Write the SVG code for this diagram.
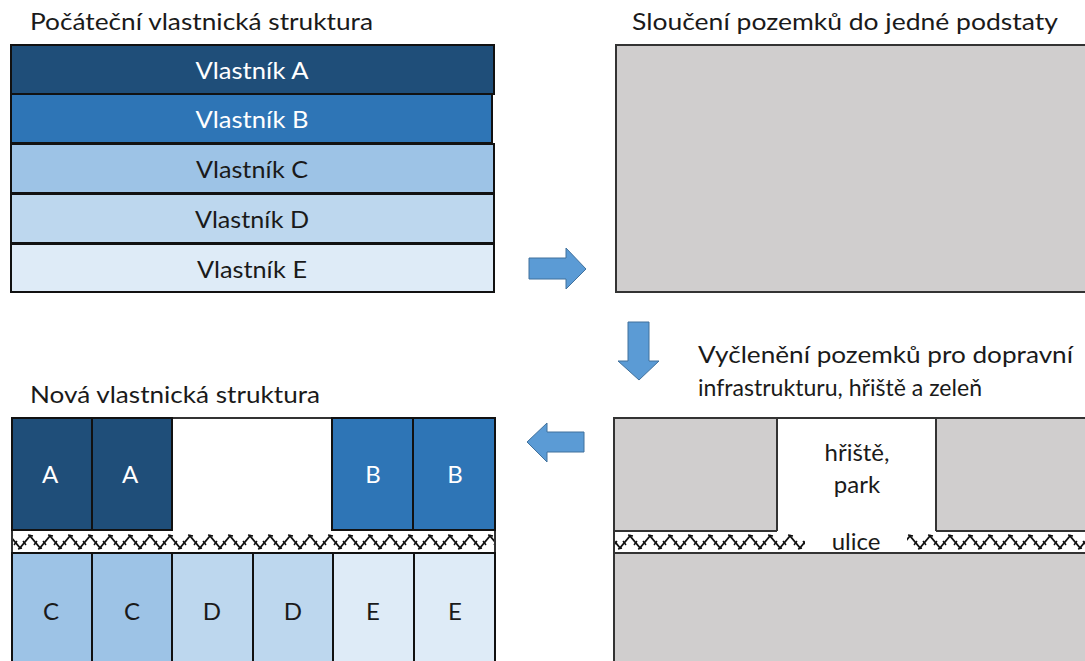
<svg xmlns="http://www.w3.org/2000/svg" width="1085" height="661" viewBox="0 0 1085 661">
<style>
.t{font-family:Lato,"Open Sans","Liberation Sans",sans-serif;fill:#1a1a1a}
.title{font-size:24px}
.lbl{font-size:24px;text-anchor:middle}
.w{fill:#ffffff}
.cell{stroke:#111;stroke-width:2}
.gray{fill:#d0cece;stroke:#333;stroke-width:2}
.arrow{fill:#5b9bd5;stroke:#41719c;stroke-width:1}
.A{fill:#1f4e79}.B{fill:#2e75b6}.C{fill:#9dc3e6}.D{fill:#bdd7ee}.E{fill:#deebf7}
</style>
<defs>
<pattern id="zig" patternUnits="userSpaceOnUse" x="0" y="531" width="20" height="22">
<rect width="20" height="22" fill="#fff"/>
<path d="M0,17 L10,5 L20,17" fill="none" stroke="#111" stroke-width="1.8"/>
<path d="M3,10 L6,14 M8,4 L13,5 M14,14 L17,10 M-2,18 L2,17 M18,18 L22,17" fill="none" stroke="#111" stroke-width="1.5"/>
</pattern>
</defs>
<rect width="1085" height="661" fill="#fff"/>

<g id="title-initial"><text class="t title" x="30" y="30" textLength="343" lengthAdjust="spacingAndGlyphs">Počáteční vlastnická struktura</text></g>
<g id="title-merge"><text class="t title" x="632" y="30" textLength="426" lengthAdjust="spacingAndGlyphs">Sloučení pozemků do jedné podstaty</text></g>
<g id="title-separate"><text class="t title" x="698" y="363" textLength="375" lengthAdjust="spacingAndGlyphs">Vyčlenění pozemků pro dopravní</text><text class="t title" x="698" y="396" textLength="284" lengthAdjust="spacingAndGlyphs">infrastrukturu, hřiště a zeleň</text></g>
<g id="title-new"><text class="t title" x="30" y="403" textLength="290" lengthAdjust="spacingAndGlyphs">Nová vlastnická struktura</text></g>

<g id="initial-structure">
<rect class="cell A" x="11" y="45" width="483" height="49"/>
<rect class="cell B" x="11" y="94" width="481" height="49"/>
<rect class="cell C" x="11" y="144" width="483" height="49"/>
<rect class="cell D" x="11" y="194" width="483" height="49"/>
<rect class="cell E" x="11" y="244" width="483" height="48"/>
<text class="t lbl w" x="252" y="79" textLength="113" lengthAdjust="spacingAndGlyphs">Vlastník A</text>
<text class="t lbl w" x="252" y="128" textLength="113" lengthAdjust="spacingAndGlyphs">Vlastník B</text>
<text class="t lbl" x="252" y="178" textLength="112" lengthAdjust="spacingAndGlyphs">Vlastník C</text>
<text class="t lbl" x="252" y="228" textLength="114" lengthAdjust="spacingAndGlyphs">Vlastník D</text>
<text class="t lbl" x="252" y="278" textLength="110" lengthAdjust="spacingAndGlyphs">Vlastník E</text>
</g>

<g id="merged-parcel">
<rect class="gray" x="616" y="45" width="480" height="247"/>
</g>

<g id="separated-parcel">
<rect class="gray" x="614" y="418" width="480" height="260"/>
<rect x="615" y="531" width="480" height="22" fill="url(#zig)"/>
<rect x="778" y="419" width="157" height="112" fill="#fff"/>
<rect x="805" y="531" width="102" height="22" fill="#fff"/>
<path d="M777,418 V531 M936,418 V531 M614,531 H777 M936,531 H1085 M614,553 H1085 M614,418 H1085" stroke="#333" stroke-width="2" fill="none"/>
<text class="t lbl" x="857" y="461">hřiště,</text>
<text class="t lbl" x="857" y="493">park</text>
<text class="t lbl" x="856" y="550">ulice</text>
</g>

<g id="new-structure">
<rect x="12" y="418" width="483" height="250" fill="#fff" stroke="#333" stroke-width="2"/>
<rect class="cell A" x="12" y="418" width="80" height="112"/>
<rect class="cell A" x="92" y="418" width="80" height="112"/>
<rect class="cell B" x="332" y="418" width="81" height="112"/>
<rect class="cell B" x="413" y="418" width="82" height="112"/>
<rect x="13" y="531" width="481" height="22" fill="url(#zig)"/>
<rect class="cell C" x="12" y="553" width="80" height="115"/>
<rect class="cell C" x="92" y="553" width="80" height="115"/>
<rect class="cell D" x="172" y="553" width="81" height="115"/>
<rect class="cell D" x="253" y="553" width="80" height="115"/>
<rect class="cell E" x="333" y="553" width="81" height="115"/>
<rect class="cell E" x="414" y="553" width="81" height="115"/>
<text class="t lbl w" x="50" y="483">A</text>
<text class="t lbl w" x="130" y="483">A</text>
<text class="t lbl w" x="373" y="483">B</text>
<text class="t lbl w" x="455" y="483">B</text>
<text class="t lbl" x="51" y="620">C</text>
<text class="t lbl" x="132" y="620">C</text>
<text class="t lbl" x="212" y="620">D</text>
<text class="t lbl" x="293" y="620">D</text>
<text class="t lbl" x="373" y="620">E</text>
<text class="t lbl" x="455" y="620">E</text>
</g>

<g id="connectors">
<polygon class="arrow" points="529,258 566,258 566,248 586,269 566,289 566,279 529,279"/>
<polygon class="arrow" points="628,322 649,322 649,361 659,361 639,380 618,361 628,361"/>
<polygon class="arrow" points="584,432 547,432 547,423 527,442 547,462 547,452 584,452"/>
</g>
</svg>
